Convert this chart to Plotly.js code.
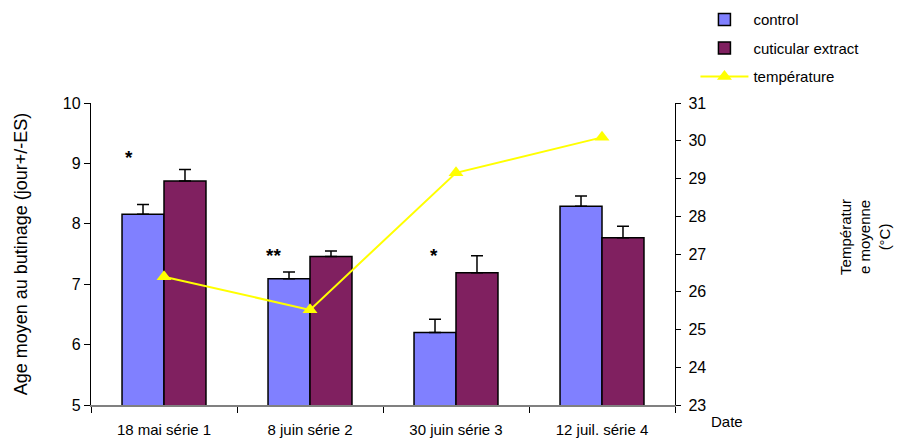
<!DOCTYPE html>
<html>
<head>
<meta charset="utf-8">
<script src="https://cdn.plot.ly/plotly-3.0.1.min.js"></script>
<style>html,body{margin:0;padding:0;background:#fff;}#chart{width:902px;height:441px;}</style>
</head>
<body>
<div id="chart"></div>
<script>
const categories = ["18 mai série 1", "8 juin série 2", "30 juin série 3", "12 juil. série 4"];
const controlValues = [8.16, 7.09, 6.20, 8.29];
const controlErrors = [0.16, 0.11, 0.22, 0.17];
const extractValues = [8.71, 7.46, 7.19, 7.77];
const extractErrors = [0.19, 0.09, 0.28, 0.19];
const temperature = [26.4, 25.52, 29.15, 30.09];
const starLabels = ["*", "**", "*", ""];
const starLevels = [9.1, 7.47, 7.47, null];

const font = "Arial, 'Liberation Sans', sans-serif";
const zeros = categories.map(() => 0);

const traces = [
  {
    type: "bar", name: "control", x: categories, y: controlValues,
    marker: {color: "#8080FF", line: {color: "#000", width: 1.5}},
    error_y: {type: "data", symmetric: false, array: controlErrors, arrayminus: zeros,
              color: "#000", thickness: 1.5, width: 6},
    legendgroup: "a", hoverinfo: "skip"
  },
  {
    type: "bar", name: "cuticular extract", x: categories, y: extractValues,
    marker: {color: "#802060", line: {color: "#000", width: 1.5}},
    error_y: {type: "data", symmetric: false, array: extractErrors, arrayminus: zeros,
              color: "#000", thickness: 1.5, width: 6},
    legendgroup: "b", hoverinfo: "skip"
  },
  {
    type: "scatter", mode: "lines+markers", name: "température", x: categories, y: temperature,
    yaxis: "y2",
    line: {color: "#FFFF00", width: 2},
    marker: {symbol: "triangle-up", size: 13, color: "#FFFF00"},
    legendgroup: "c", hoverinfo: "skip"
  }
];

const annotations = [];
const shifts = [-35, -37, -22];
categories.forEach((c, i) => {
  if (starLabels[i]) {
    annotations.push({x: c, y: starLevels[i], xref: "x", yref: "y", text: "<b>" + starLabels[i] + "</b>",
      showarrow: false, xshift: shifts[i], xanchor: "center", yanchor: "middle",
      font: {family: font, size: 19, color: "#000"}});
  }
});
annotations.push({xref: "paper", yref: "paper", x: 1.325, y: 0.556, textangle: -90,
  xanchor: "center", yanchor: "middle",
  text: "Températur<br>e moyenne<br>(°C)", showarrow: false,
  font: {family: font, size: 15, color: "#000"}});
annotations.push({xref: "paper", yref: "paper", x: 1.089, y: -0.056,
  xanchor: "center", yanchor: "middle",
  text: "Date", showarrow: false, font: {family: font, size: 15, color: "#000"}});

const layout = {
  width: 902, height: 441,
  margin: {l: 91, r: 227, t: 103, b: 36, autoexpand: false},
  paper_bgcolor: "#fff", plot_bgcolor: "#fff",
  font: {family: font, size: 15, color: "#000"},
  barmode: "group", bargap: 0.425, bargroupgap: 0,
  showlegend: true,
  legend: {x: 1.035, y: 1.33, xanchor: "left", yanchor: "top",
           traceorder: "grouped", tracegroupgap: 6, itemwidth: 48,
           font: {family: font, size: 15, color: "#000"}, bgcolor: "rgba(0,0,0,0)"},
  xaxis: {type: "category", showline: true, linecolor: "#808080", linewidth: 1.5,
          ticks: "outside", tickson: "boundaries", ticklen: 6, tickcolor: "#000",
          ticklabelstandoff: 10,
          showgrid: false, zeroline: false, tickfont: {family: font, size: 15}},
  yaxis: {range: [5, 10], dtick: 1, showline: true, linecolor: "#000", linewidth: 1.2,
          ticks: "outside", ticklen: 6, tickcolor: "#000", showgrid: false, zeroline: false,
          tickfont: {family: font, size: 16},
          title: {text: "Age moyen au butinage (jour+/-ES)", font: {family: font, size: 18}, standoff: 30}},
  yaxis2: {range: [23, 31], dtick: 1, overlaying: "y", side: "right", showline: true,
           linecolor: "#000", linewidth: 1.2, ticks: "outside", ticklen: 5, tickcolor: "#000",
           ticklabelstandoff: 4,
           showgrid: false, zeroline: false, tickfont: {family: font, size: 16}},
  annotations: annotations
};

Plotly.newPlot("chart", traces, layout, {displayModeBar: false, staticPlot: true});
</script>
</body>
</html>
